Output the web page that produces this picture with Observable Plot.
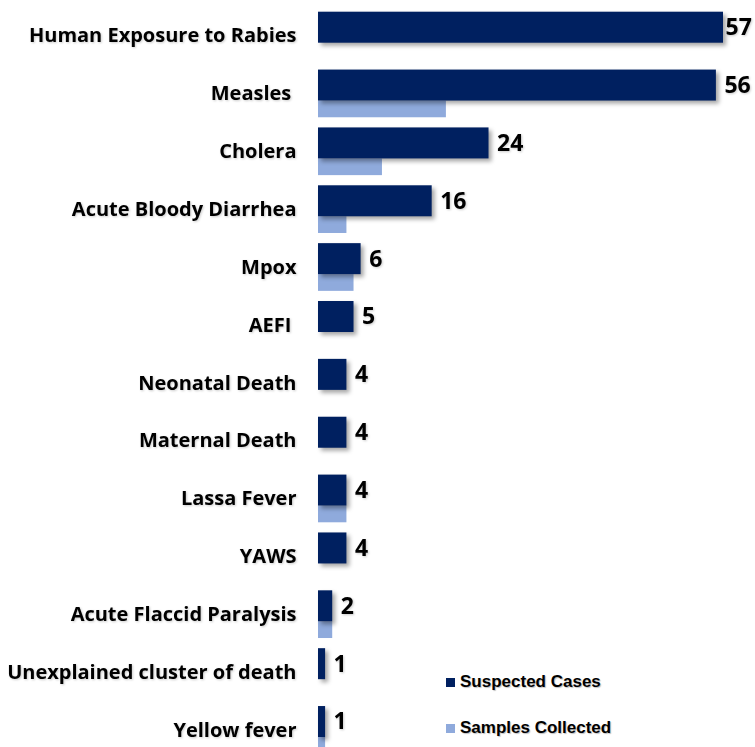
<!DOCTYPE html>
<html>
<head>
<meta charset="utf-8">
<script src="https://cdn.jsdelivr.net/npm/d3@7"></script>
<script src="https://cdn.jsdelivr.net/npm/@observablehq/plot@0.6"></script>
<style>
  html, body { margin: 0; padding: 0; background: #fff; overflow: hidden; }
  #wrap { position: relative; width: 755px; height: 747px; overflow: hidden; }
  .legend { position: absolute; left: 446px; font-family: "Liberation Sans", Arial, sans-serif; font-weight: bold; font-size: 17px; color: #000; display: flex; align-items: center; text-shadow: 1px 1px 1px rgba(0,0,0,0.25); }
  .legend span.sw { display: inline-block; width: 9px; height: 9px; margin-right: 5px; }
</style>
</head>
<body>
<div id="wrap"></div>
<script>
const categories = ["Human Exposure to Rabies", "Measles ", "Cholera", "Acute Bloody Diarrhea", "Mpox", "AEFI ", "Neonatal Death", "Maternal Death", "Lassa Fever", "YAWS", "Acute Flaccid Paralysis", "Unexplained cluster of death", "Yellow fever"];
const suspectedCases = [57, 56, 24, 16, 6, 5, 4, 4, 4, 4, 2, 1, 1];
const samplesCollected = [0, 18, 9, 4, 5, 0, 0, 0, 4, 0, 2, 0, 1];
const seriesNames = ["Suspected Cases", "Samples Collected"];
const seriesColors = ["#002060", "#8FAADC"];

const rows = categories.map((c, i) => ({category: c, suspected: suspectedCases[i], samples: samplesCollected[i]}));
const maxVal = d3.max(suspectedCases);
const step = 57.86;

const plot = Plot.plot({
  width: 755,
  height: 760,
  marginLeft: 318,
  marginRight: 32,
  marginTop: 6.6,
  marginBottom: 1.2,
  x: {domain: [0, 57], axis: null},
  y: {domain: categories, padding: 0, round: false, label: null, tickSize: 0, tickPadding: 22,
      tickFormat: d => d.endsWith(" ") ? d.trim() + "\u00a0" : d},
  style: {fontFamily: "'Open Sans', sans-serif", fontSize: "20px", fontWeight: "bold", color: "#000", overflow: "visible"},
  marks: [
    Plot.barX(rows.filter(d => d.samples > 0), {y: "category", x: "samples", fill: seriesColors[1], insetTop: 36.1, insetBottom: 5.06}),
    Plot.barX(rows, {y: "category", x: "suspected", fill: seriesColors[0], insetTop: 5.1, insetBottom: step - 36.1}),
    Plot.text(rows.filter(d => d.suspected < maxVal), {y: "category", x: "suspected", text: d => String(d.suspected), textAnchor: "start", dx: 8, dy: -8.3, fontSize: 23, fontWeight: "bold", fill: "#000"}),
    Plot.text(rows.filter(d => d.suspected === maxVal), {y: "category", x: "suspected", text: d => String(d.suspected), textAnchor: "start", dx: 2, dy: -8.3, fontSize: 23, fontWeight: "bold", fill: "#000"})
  ]
});

const wrap = document.getElementById("wrap");
wrap.appendChild(plot);
plot.querySelectorAll('g[aria-label="bar"]').forEach((g, i) => {
  g.style.filter = i === 1 ? "drop-shadow(3px 3px 2px rgba(0,0,0,0.35))" : "none";
});
plot.querySelectorAll('g[aria-label="text"], g[aria-label="y-axis tick label"]').forEach(g => {
  g.style.filter = "drop-shadow(1px 1px 1px rgba(0,0,0,0.2))";
});

const legendTops = [672, 718];
seriesNames.forEach((name, i) => {
  const div = document.createElement("div");
  div.className = "legend";
  div.style.top = legendTops[i] + "px";
  const sw = document.createElement("span");
  sw.className = "sw";
  sw.style.background = seriesColors[i];
  div.appendChild(sw);
  div.appendChild(document.createTextNode(name));
  wrap.appendChild(div);
});
</script>
</body>
</html>
